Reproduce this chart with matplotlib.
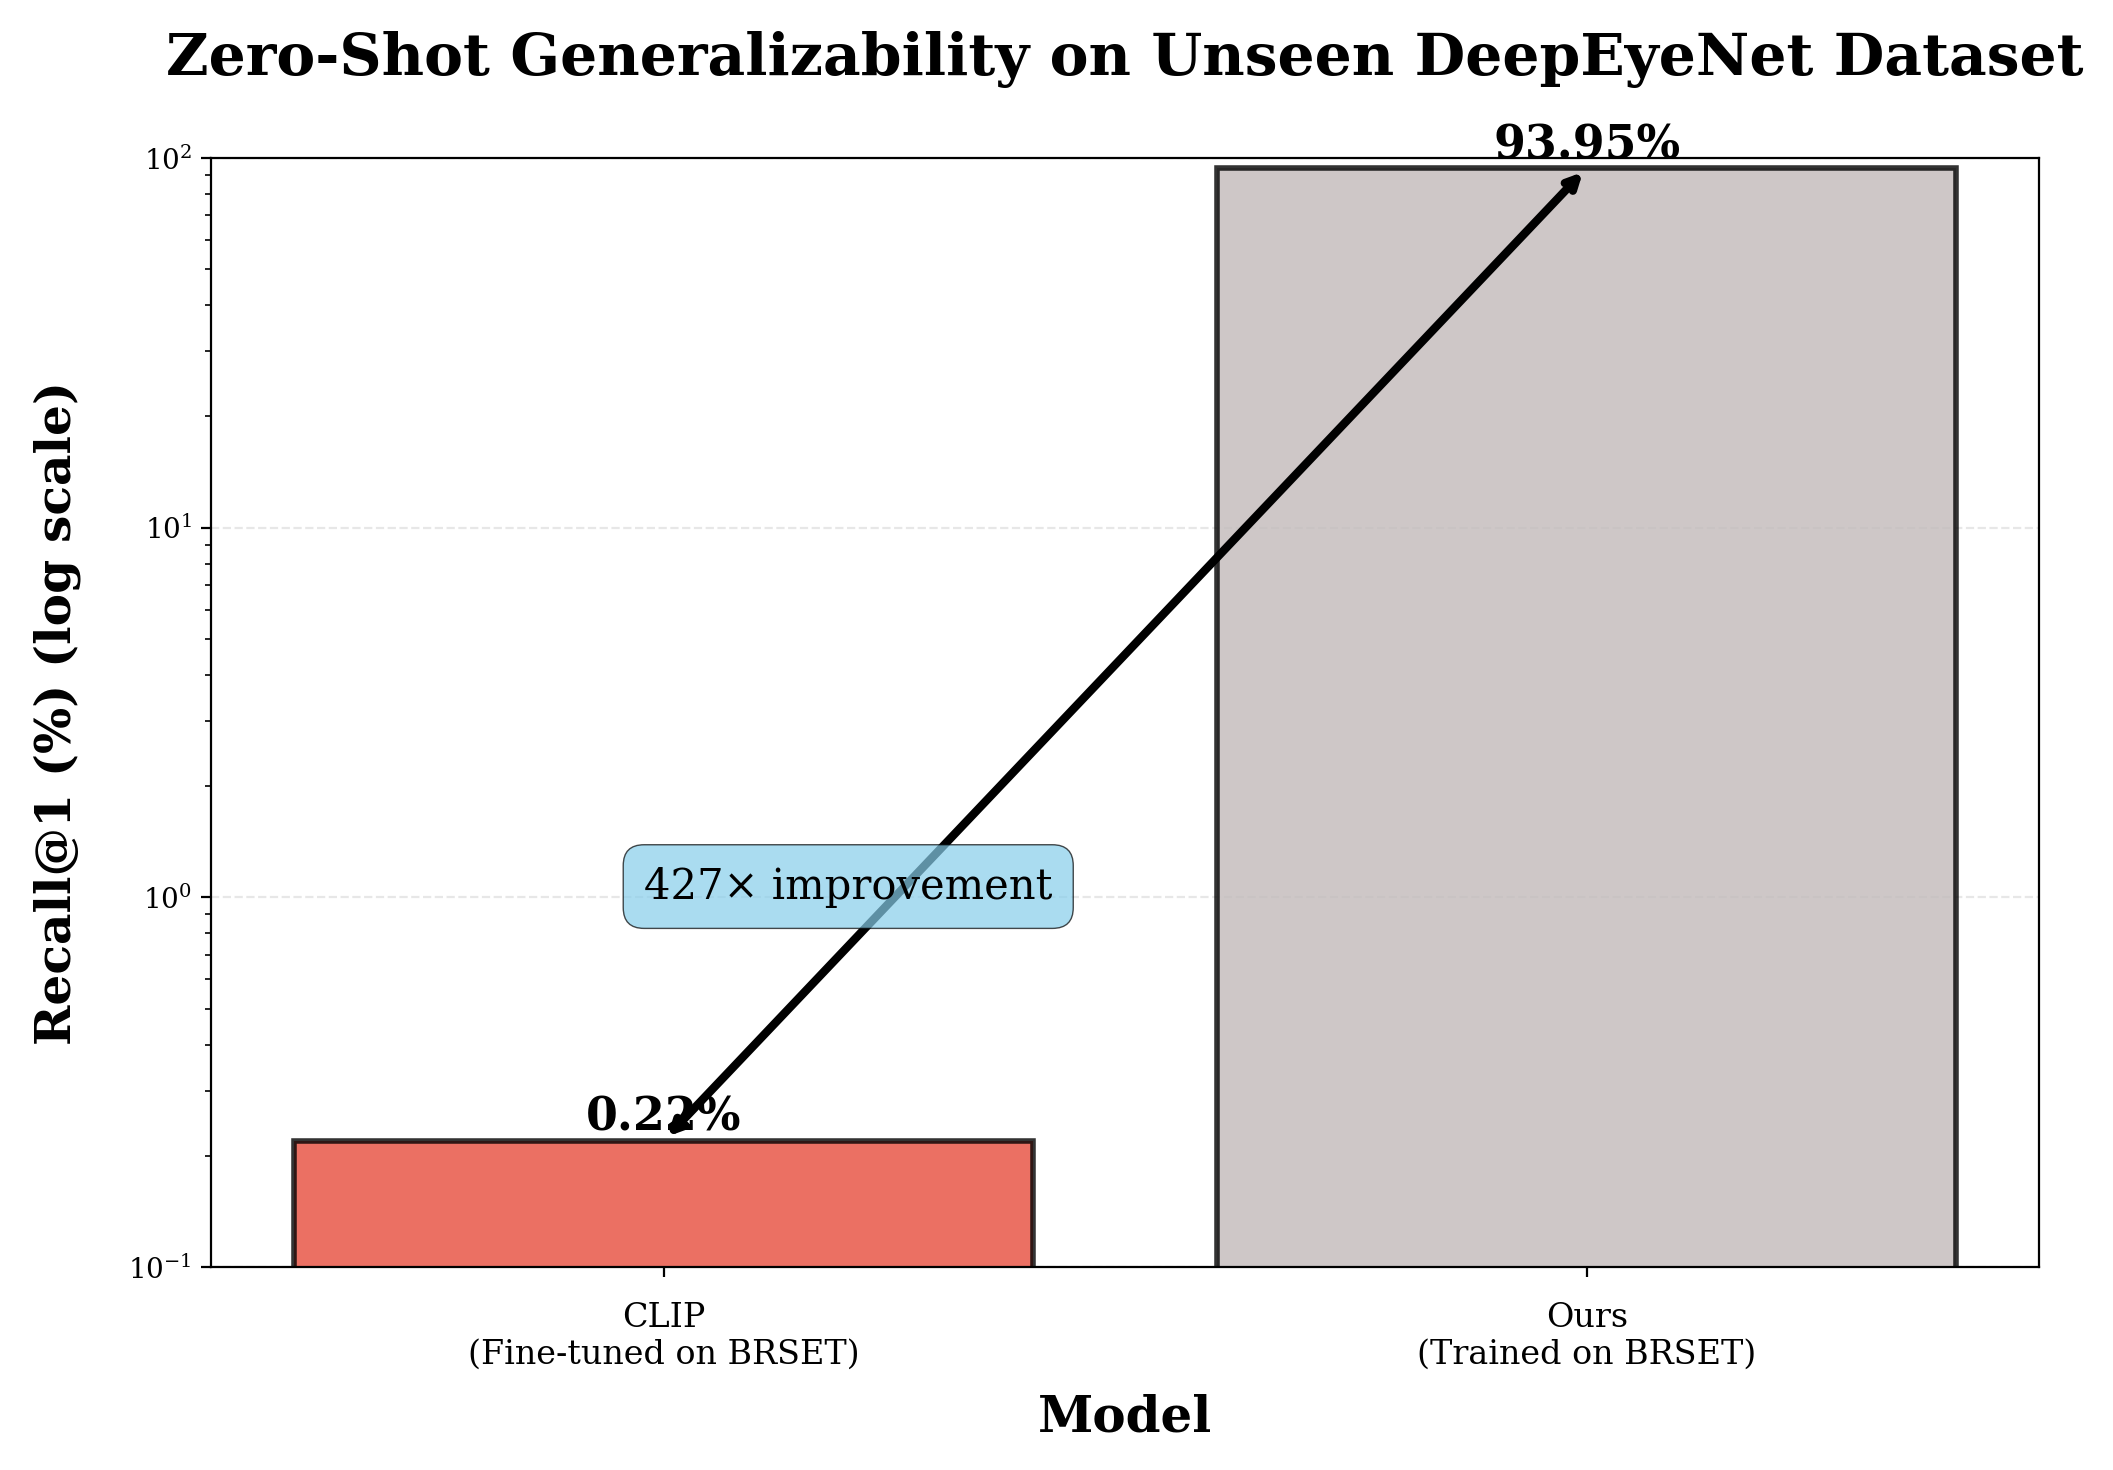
import numpy as np
import matplotlib.pyplot as plt

plt.rcParams['font.family'] = 'DejaVu Serif'

# data
models = ['CLIP\n(Fine-tuned on BRSET)', 'Ours\n(Trained on BRSET)']
recall1 = [0.22, 93.95]
colors = ['#e74c3c', '#c2baba']
improvement = recall1[1] / recall1[0]

fig, ax = plt.subplots(figsize=(10.565, 7.35), dpi=200)
fig.subplots_adjust(left=0.100, right=0.965, top=0.8925, bottom=0.138)

x = np.arange(len(models))
bars = ax.bar(x, recall1, width=0.8, color=colors, edgecolor='black',
              linewidth=2, alpha=0.8)
ax.set_yscale('log')
ax.set_ylim(0.1, 100)

# value labels
for b, v in zip(bars, recall1):
    ax.text(b.get_x() + b.get_width() / 2, v, f'{v:.2f}%',
            ha='center', va='bottom', fontsize=16.5, fontweight='bold')

# improvement arrow
ax.annotate('', xy=(x[1], recall1[1]), xytext=(x[0], recall1[0]),
            arrowprops=dict(arrowstyle='<->', color='black', lw=3))
ax.text(0.2, 1.07, f'{improvement:.0f}× improvement', ha='center', va='center',
        fontsize=15,
        bbox=dict(boxstyle='round,pad=0.5', facecolor='skyblue',
                  edgecolor='black', linewidth=0.5, alpha=0.7))

ax.set_xticks(x)
ax.set_xticklabels(models, fontsize=12)
ax.tick_params(axis='x', pad=9)
ax.set_xlabel('Model', fontsize=18, fontweight='bold', labelpad=8)
ax.set_ylabel('Recall@1 (%) (log scale)', fontsize=17.5, fontweight='bold',
              labelpad=17)
ax.set_title('Zero-Shot Generalizability on Unseen DeepEyeNet Dataset',
             fontsize=21, fontweight='bold', pad=30)
ax.grid(axis='y', linestyle='--', alpha=0.3)
ax.set_axisbelow(True)

plt.savefig('out.png', dpi=200)
